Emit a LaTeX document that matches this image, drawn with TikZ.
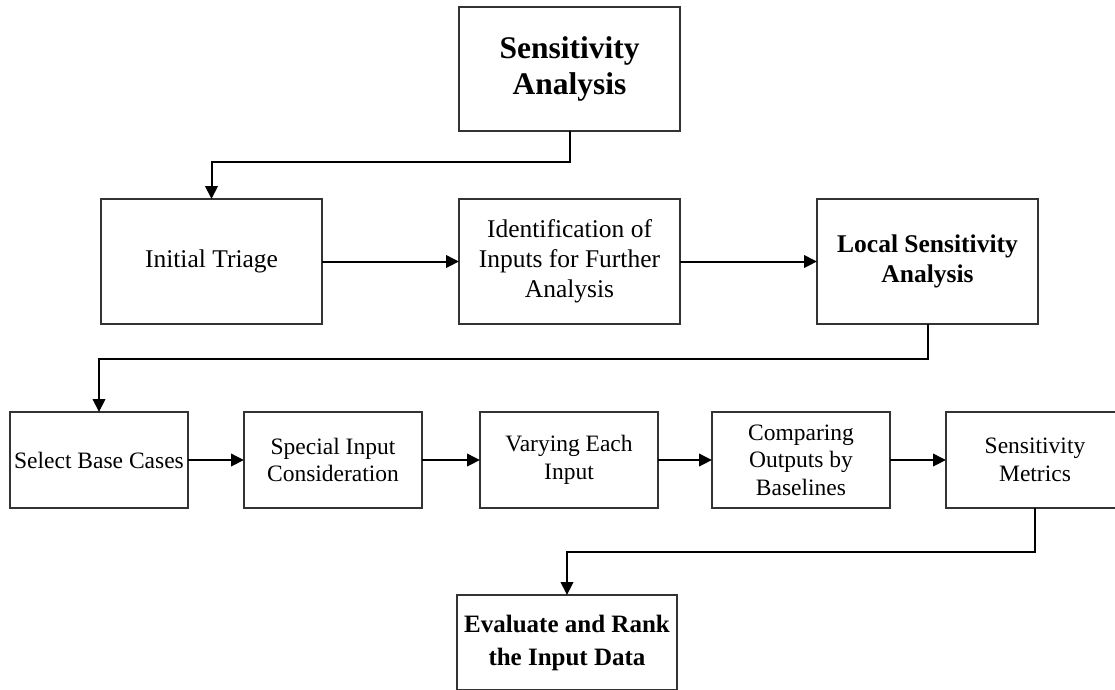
\documentclass[tikz,border=0pt]{standalone}
\usepackage{fontspec}
\setmainfont{Liberation Serif}
\usetikzlibrary{arrows.meta}
\begin{document}
\begin{tikzpicture}[x=1pt,y=-1pt,
  box/.style={draw=black!80, line width=1.4pt, rectangle, align=center, inner sep=2pt, outer sep=0pt, font=\fontsize{23.5}{27.5}\selectfont},
  bigbox/.style={box, minimum width=221pt, minimum height=125pt, font=\fontsize{25.5}{30}\selectfont},
  smallbox/.style={box, minimum width=178pt, minimum height=96pt},
  link/.style={line width=2pt, -{Triangle[length=13pt,width=12.5pt]}}]
\clip (0,0) rectangle (1115,689);
\node[bigbox, minimum height=124pt, font=\bfseries\fontsize{31.5}{36}\selectfont] (top) at (569.5,69) {Sensitivity\\Analysis};
\node[bigbox] (triage) at (211.5,261.5) {Initial Triage};
\node[bigbox] (ident) at (569.5,261.5) {Identification of\\Inputs for Further\\Analysis};
\node[bigbox, font=\bfseries\fontsize{25.5}{30}\selectfont] (local) at (927.5,261.5) {Local Sensitivity\\Analysis};
\node[smallbox] (base) at (99,460) {Select Base Cases};
\node[smallbox] (special) at (333,460) {Special Input\\Consideration};
\node[smallbox] (vary) at (569,460) {Varying Each\\Input};
\node[smallbox] (comp) at (801,460) {Comparing\\Outputs by\\Baselines};
\node[smallbox] (metrics) at (1035,460) {Sensitivity\\Metrics};
\node[box, minimum width=220pt, minimum height=95pt, font=\bfseries\fontsize{25}{33}\selectfont] (eval) at (567,642.5) {Evaluate and Rank\\the Input Data};
\draw[link] (top.south) -- ++(0,31) -| (triage.north);
\draw[link] (triage) -- (ident);
\draw[link] (ident) -- (local);
\draw[link] (local.south) -- ++(0,35) -| (base.north);
\draw[link] (base) -- (special);
\draw[link] (special) -- (vary);
\draw[link] (vary) -- (comp);
\draw[link] (comp) -- (metrics);
\draw[link] (metrics.south) -- ++(0,44) -| (eval.north);
\end{tikzpicture}
\end{document}
